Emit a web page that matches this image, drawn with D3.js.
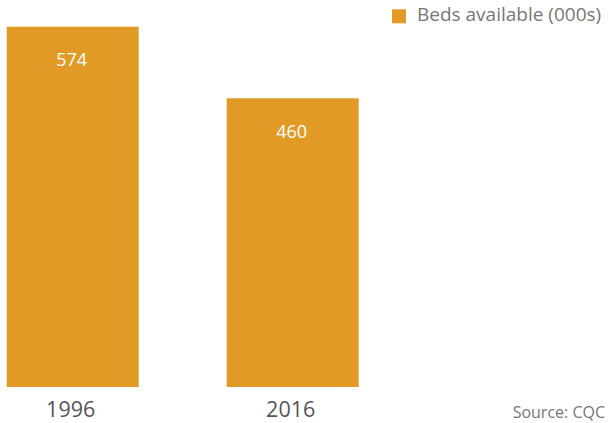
<!DOCTYPE html>
<html lang="en">
<head>
  <meta charset="UTF-8">
  <title>Beds available</title>
  <script src="https://d3js.org/d3.v7.min.js"></script>
  <style>
    body { margin: 0; padding: 0; background: #fff; }
    svg text { font-family: "Open Sans", "Noto Sans", sans-serif; }
  </style>
</head>
<body>
  <div class="chart"></div>
  <script>
    const years = ["1996", "2016"]
    const beds = [574, 460]
    const seriesName = "Beds available (000s)"
    const source = "Source: CQC"

    const width = 608, height = 423
    const barColor = "#e09a25"

    const svg = d3.select(".chart")
      .append("svg")
        .attr("width", width)
        .attr("height", height)

    const x = d3.scaleBand()
      .domain(years)
      .range([6.7, 358.7])
      .paddingInner(0.4)
      .paddingOuter(0)

    const y = d3.scaleLinear()
      .domain([0, 574])
      .range([387, 26.7])

    const data = years.map((yr, i) => ({ year: yr, value: beds[i] }))

    svg.selectAll(".bar")
      .data(data)
      .enter().append("rect")
        .attr("class", "bar")
        .attr("x", d => x(d.year))
        .attr("y", d => y(d.value))
        .attr("width", x.bandwidth())
        .attr("height", d => y(0) - y(d.value))
        .style("fill", barColor)

    svg.selectAll(".val")
      .data(data)
      .enter().append("text")
        .attr("class", "val")
        .attr("x", d => x(d.year) + x.bandwidth() / 2 - 1)
        .attr("y", d => y(d.value) + 39.5)
        .attr("text-anchor", "middle")
        .attr("fill", "#fff")
        .style("font-size", "18px")
        .text(d => d.value)

    // x axis labels, no line
    const xAxis = d3.axisBottom(x).tickSize(0).tickPadding(0)
    const gx = svg.append("g")
      .attr("transform", `translate(0, ${y(0)})`)
      .call(xAxis)
    gx.select(".domain").remove()
    gx.selectAll(".tick text")
      .attr("x", -2)
      .attr("y", 30)
      .attr("dy", 0)
      .attr("fill", "#555")
      .style("font-size", "21.5px")
      .style("font-family", "Open Sans")

    // legend
    const legend = svg.append("g").attr("transform", "translate(392, 9.3)")
    legend.append("rect")
      .attr("width", 14)
      .attr("height", 14)
      .style("fill", barColor)
    legend.append("text")
      .attr("x", 25)
      .attr("y", 11.6)
      .attr("fill", "#777")
      .style("font-size", "19px")
      .text(seriesName)

    svg.append("text")
      .attr("x", 605)
      .attr("y", 418)
      .attr("text-anchor", "end")
      .attr("fill", "#777")
      .style("font-size", "16px")
      .text(source)
  </script>
</body>
</html>
